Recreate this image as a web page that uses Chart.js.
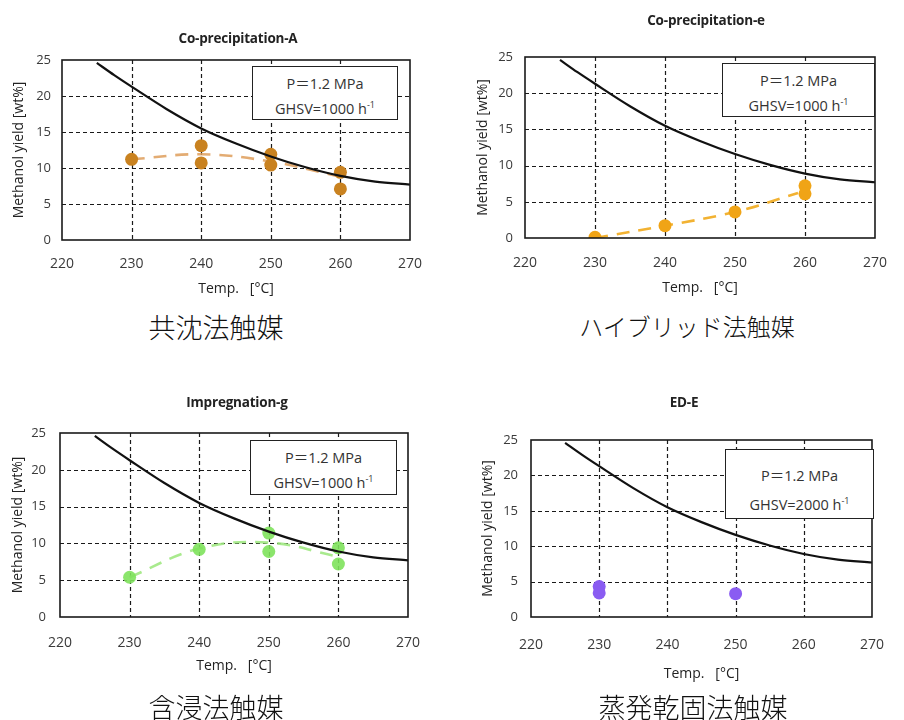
<!DOCTYPE html>
<html>
<head>
<meta charset="utf-8">
<script src="https://cdn.jsdelivr.net/npm/chart.js@4.4.1/dist/chart.umd.min.js"></script>
<style>
  body { margin: 0; background: #fff; }
  #page { position: relative; width: 904px; height: 720px; overflow: hidden; font-family: "Open Sans", sans-serif; }
  .box { position: absolute; }
  .ttl { position: absolute; font-weight: bold; font-size: 13.5px; color: #222; text-align: center; width: 300px; letter-spacing: -0.2px; }
  .leg { position: absolute; background: #fff; border: 1.5px solid #222; box-sizing: border-box; color: #333; font-size: 14.5px; text-align: center; line-height: 21px; }
  .leg .eq { font-family: "Noto Sans CJK JP", sans-serif; }
  .cap { position: absolute; width: 400px; text-align: center; font-family: "Noto Sans CJK JP", sans-serif; font-weight: 300; font-size: 27px; line-height: 1; color: #111; }
  sup { font-size: 9px; }
</style>
</head>
<body>
<div id="page">
  <div class="box" style="left:0;top:0;width:452px;height:300px"><canvas id="c1"></canvas></div>
  <div class="box" style="left:452px;top:0;width:452px;height:300px"><canvas id="c2"></canvas></div>
  <div class="box" style="left:0;top:360px;width:452px;height:330px"><canvas id="c3"></canvas></div>
  <div class="box" style="left:452px;top:360px;width:452px;height:330px"><canvas id="c4"></canvas></div>

  <div class="ttl" style="left:88px;top:29px">Co-precipitation-A</div>
  <div class="ttl" style="left:556px;top:11px">Co-precipitation-e</div>
  <div class="ttl" style="left:87px;top:393px">Impregnation-g</div>
  <div class="ttl" style="left:534px;top:393px">ED-E</div>

  <div class="leg" style="left:252px;top:66px;width:146px;height:54px;padding-top:5px">P<span class="eq">＝</span>1.2 MPa<br>GHSV=1000 h<sup>-1</sup></div>
  <div class="leg" style="left:722px;top:63px;width:153px;height:54px;padding-top:5px">P<span class="eq">＝</span>1.2 MPa<br>GHSV=1000 h<sup>-1</sup></div>
  <div class="leg" style="left:250px;top:440px;width:147px;height:55px;padding-top:5px">P<span class="eq">＝</span>1.2 MPa<br>GHSV=1000 h<sup>-1</sup></div>
  <div class="leg" style="left:725px;top:449px;width:149px;height:70px;padding-top:12px;line-height:25px">P<span class="eq">＝</span>1.2 MPa<br>GHSV=2000 h<sup>-1</sup></div>

  <div class="cap" style="left:16px;top:313px">共沈法触媒</div>
  <div class="cap" style="left:487px;top:314px;font-size:24px">ハイブリッド法触媒</div>
  <div class="cap" style="left:16px;top:693px">含浸法触媒</div>
  <div class="cap" style="left:493px;top:693px">蒸発乾固法触媒</div>
</div>
<script>
// equilibrium yield curve (same on every panel)
var eqTemp  = [225, 227.5, 230, 235, 240, 245, 250, 255, 260, 265, 270];
var eqYield = [24.6, 22.9, 21.3, 18.2, 15.5, 13.4, 11.6, 10.1, 8.9, 8.1, 7.7];

// Co-precipitation-A
var aTemp  = [230, 240, 240, 250, 250, 260, 260];
var aYield = [11.2, 13.1, 10.7, 11.9, 10.4, 9.4, 7.1];
var aTrendTemp  = [230, 240, 250, 260];
var aTrendYield = [11.2, 11.9, 10.9, 8.8];

// Co-precipitation-e
var eTemp  = [230, 240, 250, 260, 260];
var eYield = [0.1, 1.7, 3.6, 7.2, 6.1];
var eTrendTemp  = [230, 240, 250, 259];
var eTrendYield = [0.0, 1.7, 3.6, 6.2];

// Impregnation-g
var gTemp  = [230, 240, 250, 250, 260, 260];
var gYield = [5.4, 9.2, 11.4, 8.9, 9.4, 7.2];
var gTrendTemp  = [230, 240, 250, 260];
var gTrendYield = [5.4, 9.3, 10.1, 8.2];

// ED-E
var dTemp  = [230, 230, 250];
var dYield = [4.3, 3.4, 3.3];

var xTicks = [220, 230, 240, 250, 260, 270];
var yTicks = [0, 5, 10, 15, 20, 25];

function pts(xs, ys) {
  return xs.map(function(x, i) { return {x: x, y: ys[i]}; });
}

// dashed grid + solid frame
var framePlugin = {
  id: 'frame',
  beforeDatasetsDraw: function(chart) {
    var a = chart.chartArea, ctx = chart.ctx;
    var sx = chart.scales.x, sy = chart.scales.y;
    ctx.save();
    ctx.strokeStyle = '#1a1a1a';
    ctx.lineWidth = 1.2;
    ctx.setLineDash([4, 3]);
    xTicks.slice(1, -1).forEach(function(v) {
      var px = Math.round(sx.getPixelForValue(v)) + 0.5;
      ctx.beginPath(); ctx.moveTo(px, a.top); ctx.lineTo(px, a.bottom); ctx.stroke();
    });
    yTicks.slice(1, -1).forEach(function(v) {
      var py = Math.round(sy.getPixelForValue(v)) + 0.5;
      ctx.beginPath(); ctx.moveTo(a.left, py); ctx.lineTo(a.right, py); ctx.stroke();
    });
    ctx.restore();
  },
  afterDraw: function(chart) {
    var a = chart.chartArea, ctx = chart.ctx;
    ctx.save();
    ctx.setLineDash([]);
    ctx.strokeStyle = '#1a1a1a';
    ctx.lineWidth = 1.6;
    ctx.strokeRect(a.left, a.top, a.right - a.left, a.bottom - a.top);
    ctx.restore();
  }
};

function makeChart(id, cfg) {
  var datasets = [{
    data: pts(eqTemp, eqYield),
    showLine: true, borderColor: '#111', borderWidth: 2.2,
    pointRadius: 0, cubicInterpolationMode: 'monotone'
  }];
  if (cfg.points) {
    datasets.push({
      data: pts(cfg.points[0], cfg.points[1]),
      showLine: false, pointRadius: 6.5, pointHoverRadius: 6.5,
      backgroundColor: cfg.pointColor, borderColor: cfg.pointColor, borderWidth: 0
    });
  }
  if (cfg.trend) {
    datasets.push({
      data: pts(cfg.trend[0], cfg.trend[1]),
      showLine: true, borderColor: cfg.lineColor, borderWidth: 2.6,
      borderDash: [13, 9], pointRadius: 0, tension: 0.4
    });
  }

  new Chart(document.getElementById(id), {
    type: 'scatter',
    data: { datasets: datasets },
    options: {
      responsive: true, maintainAspectRatio: false, animation: false,
      layout: { padding: { top: cfg.top, right: cfg.right, left: 0, bottom: 0 } },
      plugins: { legend: { display: false }, tooltip: { enabled: false } },
      scales: {
        x: {
          min: 220, max: 270,
          afterBuildTicks: function(s) { s.ticks = xTicks.map(function(v) { return {value: v}; }); },
          afterFit: function(s) { s.height = cfg.xH; },
          grid: { display: false, drawTicks: false },
          border: { display: false },
          ticks: { color: '#3a3a3a', font: { size: 14, family: 'Open Sans' }, padding: cfg.xPad, maxRotation: 0 },
          title: { display: true, text: 'Temp.   [°C]', color: '#222', font: { size: 14, family: 'Open Sans' }, padding: { top: 0, bottom: cfg.xTitlePad } }
        },
        y: {
          min: 0, max: 25,
          afterBuildTicks: function(s) { s.ticks = yTicks.map(function(v) { return {value: v}; }); },
          afterFit: function(s) { s.width = cfg.yW; },
          grid: { display: false, drawTicks: false },
          border: { display: false },
          ticks: { color: '#3a3a3a', font: { size: 13, family: 'Open Sans' }, padding: cfg.yPad },
          title: { display: true, text: 'Methanol yield [wt%]', color: '#222', font: { size: 14, family: 'Open Sans' }, padding: { top: cfg.yTitlePad, bottom: 0 } }
        }
      }
    },
    plugins: [framePlugin]
  });
}

makeChart('c1', {
  top: 60, right: 42, xH: 60, yW: 62, xPad: 16, yPad: 11, xTitlePad: 3, yTitlePad: 11,
  points: [aTemp, aYield], pointColor: '#c98220',
  trend: [aTrendTemp, aTrendYield], lineColor: 'rgba(222,158,90,0.85)'
});
makeChart('c2', {
  top: 57, right: 19, xH: 62, yW: 73, xPad: 17, yPad: 12, xTitlePad: 4, yTitlePad: 23,
  points: [eTemp, eYield], pointColor: '#f0a416',
  trend: [eTrendTemp, eTrendYield], lineColor: '#f2b232'
});
makeChart('c3', {
  top: 73, right: 44, xH: 73, yW: 60, xPad: 18, yPad: 14, xTitlePad: 16, yTitlePad: 10,
  points: [gTemp, gYield], pointColor: 'rgba(126,226,92,0.9)',
  trend: [gTrendTemp, gTrendYield], lineColor: 'rgba(160,232,130,0.9)'
});
makeChart('c4', {
  top: 80, right: 19, xH: 73, yW: 79, xPad: 20, yPad: 13, xTitlePad: 8, yTitlePad: 28,
  points: [dTemp, dYield], pointColor: '#8a5cf2'
});
</script>
</body>
</html>
